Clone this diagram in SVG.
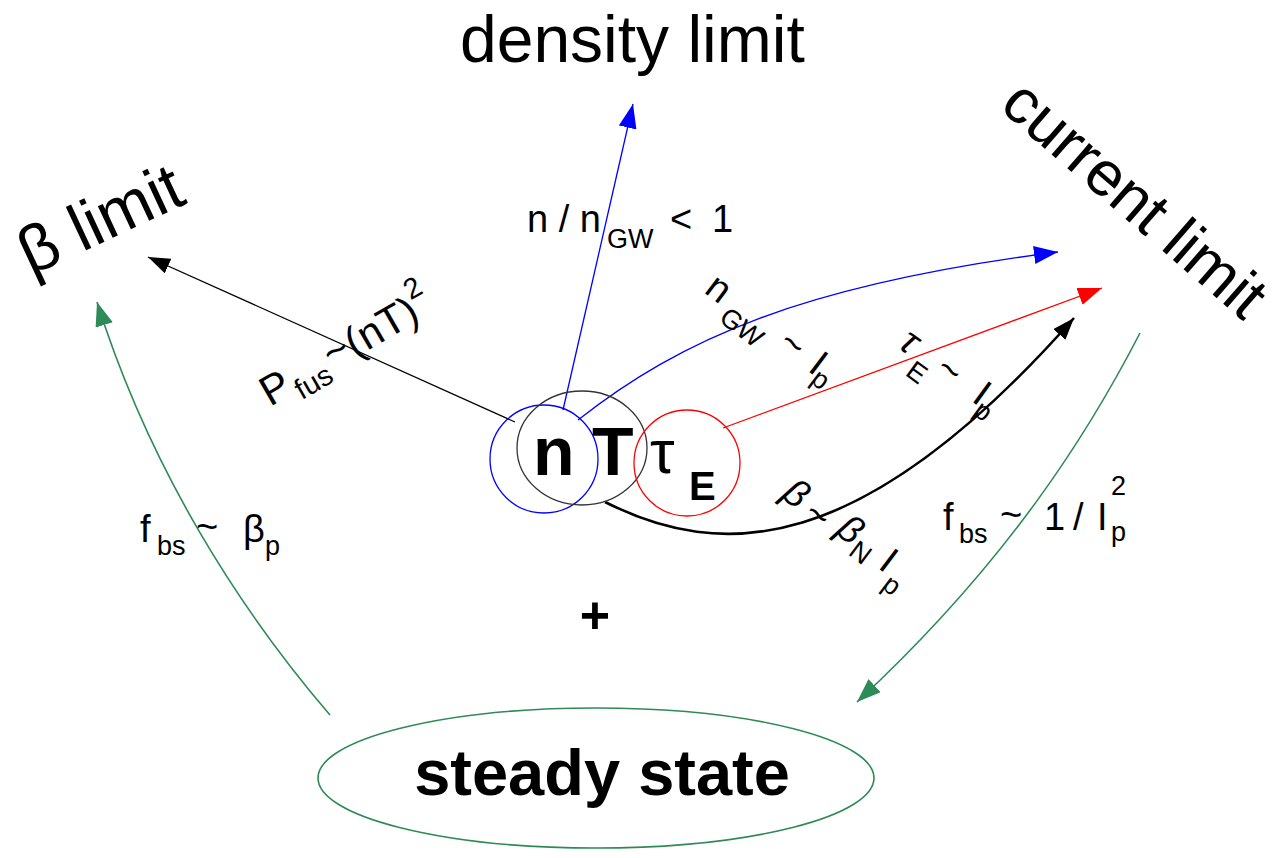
<svg xmlns="http://www.w3.org/2000/svg" width="1281" height="858" viewBox="0 0 1281 858">
<style>
text{font-family:"Liberation Sans",Arial,sans-serif;fill:#000}
.big{font-size:66px}
.lbl{font-size:38px}
.sub{font-size:27px}
.thin{fill:none;stroke-width:1.3}
.green{fill:none;stroke:#2e8b57;stroke-width:1.6}
</style>
<defs>
<marker id="aK" markerUnits="userSpaceOnUse" markerWidth="24" markerHeight="18" refX="22" refY="8" orient="auto"><path d="M0,0 L22,8 L0,16 z" fill="#000"/></marker>
<marker id="aB" markerUnits="userSpaceOnUse" markerWidth="26" markerHeight="20" refX="24" refY="9" orient="auto"><path d="M0,0 L24,9 L0,18 z" fill="#0000ff"/></marker>
<marker id="aR" markerUnits="userSpaceOnUse" markerWidth="26" markerHeight="20" refX="24" refY="9" orient="auto"><path d="M0,0 L24,9 L0,18 z" fill="#ff0000"/></marker>
<marker id="aG" markerUnits="userSpaceOnUse" markerWidth="26" markerHeight="20" refX="24" refY="9" orient="auto"><path d="M0,0 L24,9 L0,18 z" fill="#2e8b57"/></marker>
</defs>

<g id="connectors">
<path d="M515,422 L148,257" class="thin" stroke="#000" marker-end="url(#aK)"/>
<path d="M563,410 L633,104" class="thin" stroke="#0000ff" marker-end="url(#aB)"/>
<path d="M578,420 C680,340 800,285 1058,252" class="thin" stroke="#0000ff" marker-end="url(#aB)"/>
<path d="M723,428 L1102,288" class="thin" stroke="#ff0000" marker-end="url(#aR)"/>
<path d="M605,502 C720,560 860,560 1074,318" fill="none" stroke="#000" stroke-width="2.6" marker-end="url(#aK)"/>
<path d="M330,715 C240,610 150,470 97,302" class="green" marker-end="url(#aG)"/>
<path d="M1140,333 C1090,430 1010,560 857,702" class="green" marker-end="url(#aG)"/>
</g>

<g id="node-n">
<circle cx="544" cy="459" r="54" fill="none" stroke="#0000ff" stroke-width="1.3"/>
</g>
<g id="node-T">
<ellipse cx="582" cy="448" rx="65" ry="57" fill="none" stroke="#333" stroke-width="1.3"/>
</g>
<g id="node-tau">
<circle cx="687" cy="463" r="53" fill="none" stroke="#ff0000" stroke-width="1.3"/>
</g>
<g id="node-labels">
<text x="533" y="475" font-size="68" font-weight="bold">n</text>
<text x="592" y="475" font-size="68" font-weight="bold">T</text>
<text x="650" y="473" font-size="62">τ</text>
<text x="689" y="500" font-size="40" font-weight="bold">E</text>
</g>

<g id="density-limit"><text x="460" y="62" class="big">density limit</text></g>
<g id="beta-limit"><text transform="translate(31,276) rotate(-25)" class="big">β limit</text></g>
<g id="current-limit"><text transform="translate(998,108) rotate(41)" font-size="63">current limit</text></g>

<g id="steady-state">
<ellipse cx="596" cy="778" rx="278" ry="70" fill="none" stroke="#2e8b57" stroke-width="1.6"/>
<text x="602" y="795" font-size="65" font-weight="bold" text-anchor="middle">steady state</text>
</g>

<g id="plus"><text x="595" y="633" font-size="52" font-weight="bold" text-anchor="middle">+</text></g>

<g id="labels">
<text x="527" y="232" class="lbl">n / n<tspan x="607" y="248" class="sub">GW</tspan><tspan x="670" y="232">&lt;</tspan><tspan x="712" y="232">1</tspan></text>

<text transform="translate(270,407) rotate(-30)" font-size="42">P<tspan x="31" dy="10" font-size="29">fus</tspan><tspan x="73" dy="-12">~</tspan><tspan x="98" dy="2">(nT)</tspan><tspan dy="-22" font-size="29">2</tspan></text>

<text transform="translate(703,292) rotate(37)" class="lbl">n<tspan x="29" dy="14" class="sub">GW</tspan><tspan x="92" dy="-14">~</tspan><tspan x="130">I</tspan><tspan x="139" dy="8" class="sub">p</tspan></text>

<text transform="translate(897,347) rotate(36)" class="lbl"><tspan font-style="italic">τ</tspan><tspan x="22" dy="18" class="sub">E</tspan><tspan x="45" dy="-18">~</tspan><tspan x="91">I</tspan><tspan x="100" dy="10" class="sub">p</tspan></text>

<text transform="translate(780,497) rotate(37)" class="lbl"><tspan font-style="italic">β</tspan><tspan x="30" dy="4">~</tspan><tspan x="65" dy="-8" font-style="italic">β</tspan><tspan x="88" dy="9" class="sub">N</tspan><tspan x="120" dy="-7">I</tspan><tspan x="135" dy="14" class="sub">p</tspan></text>

<text x="140" y="542" class="lbl">f<tspan x="157" y="555" class="sub">bs</tspan><tspan x="196" y="540">~</tspan><tspan x="243" y="542">β</tspan><tspan x="265" y="555" class="sub">p</tspan></text>

<text x="943" y="530" class="lbl">f<tspan x="959" y="543" class="sub">bs</tspan><tspan x="1000" y="528">~</tspan><tspan x="1044" y="530">1</tspan><tspan x="1073" y="530">/</tspan><tspan x="1097" y="530">I</tspan><tspan x="1111" y="495" class="sub">2</tspan><tspan x="1111" y="541" class="sub">p</tspan></text>
</g>
</svg>
